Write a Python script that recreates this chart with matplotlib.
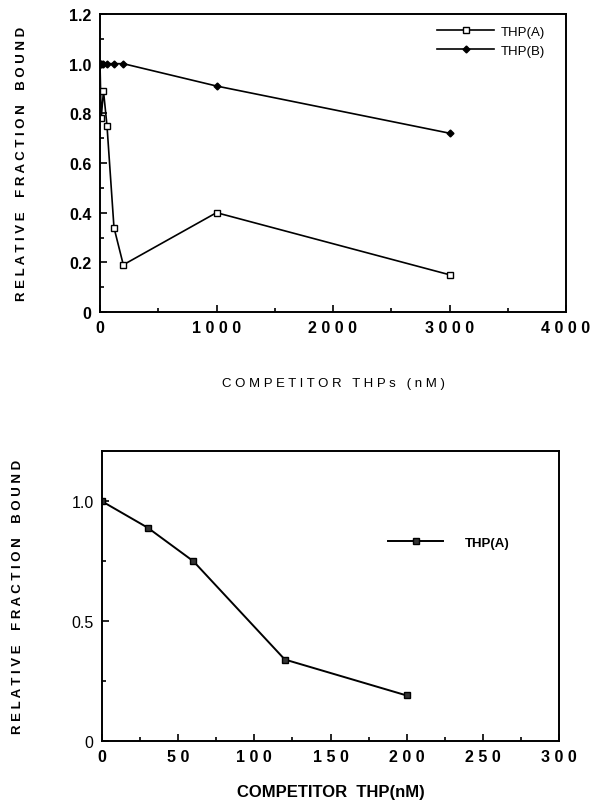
import matplotlib.pyplot as plt
from matplotlib.ticker import MultipleLocator, FixedFormatter, FixedLocator

plt.rcParams['font.family'] = ['Liberation Sans', 'DejaVu Sans']

# top panel: competition with THP(A) and THP(B)
conc_a = [0, 10, 30, 60, 120, 200, 1000, 3000]
bound_a = [1.0, 0.78, 0.89, 0.75, 0.34, 0.19, 0.40, 0.15]
conc_b = [0, 10, 30, 60, 120, 200, 1000, 3000]
bound_b = [1.0, 1.0, 1.0, 1.0, 1.0, 1.0, 0.91, 0.72]

# bottom panel: low range THP(A)
conc_low = [0, 30, 60, 120, 200]
bound_low = [1.0, 0.89, 0.75, 0.34, 0.19]

top_xticks = [0, 1000, 2000, 3000, 4000]
top_yticks = [0, 0.2, 0.4, 0.6, 0.8, 1.0, 1.2]
top_ylabels = ['0', '0.2', '0.4', '0.6', '0.8', '1.0', '1.2']
bot_xticks = [0, 50, 100, 150, 200, 250, 300]
bot_yticks = [0, 0.5, 1.0]
bot_ylabels = ['0', '0.5', '1.0']

fig = plt.figure(figsize=(5.92, 8.04), dpi=100)
W, H = 592, 804

def spaced(s):
    return ' '.join(s)

ylab = 'R E L A T I V E    F R A C T I O N    B O U N D'

# ---- top
ax1 = fig.add_axes([100/W, 1-313/H, 466/W, 298/H])
ax1.plot(conc_a, bound_a, color='black', lw=1.2, marker='s', ms=4,
         mfc='white', mec='black', mew=1.0, label='THP(A)')
ax1.plot(conc_b, bound_b, color='black', lw=1.2, marker='D', ms=3.5,
         mfc='black', mec='black', label='THP(B)')
ax1.set_xlim(0, 4000)
ax1.set_ylim(0, 1.2)
ax1.xaxis.set_major_locator(FixedLocator(top_xticks))
ax1.xaxis.set_major_formatter(FixedFormatter([spaced(str(t)) for t in top_xticks]))
ax1.xaxis.set_minor_locator(MultipleLocator(500))
ax1.yaxis.set_major_locator(FixedLocator(top_yticks))
ax1.yaxis.set_major_formatter(FixedFormatter(top_ylabels))
ax1.yaxis.set_minor_locator(MultipleLocator(0.1))
ax1.tick_params(which='both', direction='in', width=1.2)
ax1.tick_params(which='major', length=5, labelsize=11.5, pad=6)
ax1.tick_params(which='minor', length=3)
for lbl in ax1.get_xticklabels() + ax1.get_yticklabels():
    lbl.set_fontweight('bold')
ax1.set_xlabel(spaced('COMPETITOR') + '   ' + spaced('THPs') + '   ' + spaced('(nM)'),
               fontsize=9.5, labelpad=30)
ax1.set_ylabel(ylab, fontsize=9.5, fontweight='bold', labelpad=30)
for s in ax1.spines.values():
    s.set_linewidth(1.4)
ax1.legend(loc='upper right', frameon=False, fontsize=9.5, handlelength=4.3,
           bbox_to_anchor=(0.98, 1.0), handletextpad=0.5)

# ---- bottom
ax2 = fig.add_axes([102/W, 1-742/H, 457/W, 290/H])
ax2.plot(conc_low, bound_low, color='black', lw=1.4, marker='s', ms=5,
         mfc='#333333', mec='black', label='THP(A)')
ax2.set_xlim(0, 300)
ax2.set_ylim(0, 1.21)
ax2.xaxis.set_major_locator(FixedLocator(bot_xticks))
ax2.xaxis.set_major_formatter(FixedFormatter([spaced(str(t)) for t in bot_xticks]))
ax2.xaxis.set_minor_locator(MultipleLocator(25))
ax2.yaxis.set_major_locator(FixedLocator(bot_yticks))
ax2.yaxis.set_major_formatter(FixedFormatter(bot_ylabels))
ax2.yaxis.set_minor_locator(MultipleLocator(0.25))
ax2.tick_params(which='both', direction='in', width=1.2)
ax2.tick_params(which='major', length=5, labelsize=11.5, pad=6)
ax2.tick_params(which='minor', length=3)
for lbl in ax2.get_xticklabels():
    lbl.set_fontweight('bold')
ax2.set_xlabel('COMPETITOR  THP(nM)', fontsize=12, fontweight='bold', labelpad=14)
ax2.set_ylabel(ylab, fontsize=9.5, fontweight='bold', labelpad=34)
for s in ax2.spines.values():
    s.set_linewidth(1.4)
ax2.legend(loc='upper left', frameon=False, handlelength=4.2,
           bbox_to_anchor=(0.6, 0.745), handletextpad=1.6,
           prop={'weight': 'bold', 'size': 9.5})

fig.savefig('out.png', dpi=100)
